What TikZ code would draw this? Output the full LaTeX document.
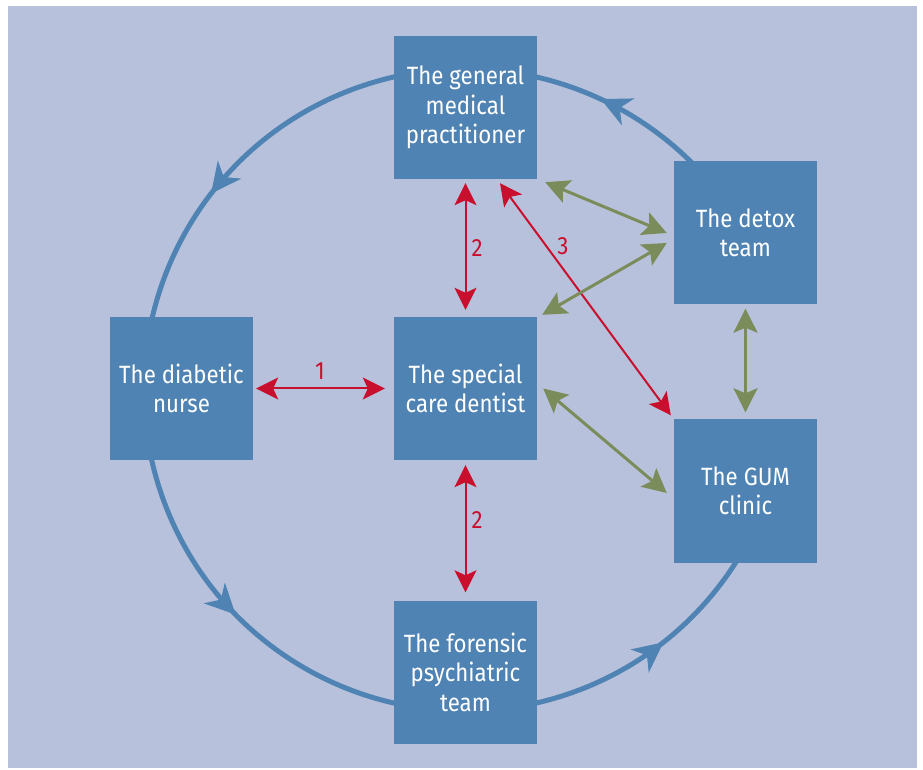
\documentclass[tikz,border=0pt]{standalone}
\usepackage{fontspec}
\setmainfont{Fira Sans}[FakeStretch=0.89]
\usetikzlibrary{arrows.meta,decorations.markings,calc}
\definecolor{bgc}{HTML}{B8C1DB}
\definecolor{boxc}{HTML}{4F83B3}
\definecolor{redc}{HTML}{C8102E}
\definecolor{greenc}{HTML}{7A8C5A}
\tikzset{
  circtip/.tip={Stealth[length=30pt,width=29pt,inset=9pt]},
  redtip/.tip={Stealth[length=22pt,width=22pt,inset=5pt]},
  grntip/.tip={Stealth[length=24pt,width=24pt,inset=5pt]}
}
\begin{document}
\begin{tikzpicture}[x=1pt,y=1pt,
  box/.style={fill=boxc, minimum width=143pt, minimum height=143pt, inner sep=0pt,
    text=white, align=center, font=\fontsize{25}{29.5}\selectfont},
  redarr/.style={draw=redc, line width=2pt, redtip-redtip},
  grnarr/.style={draw=greenc, line width=3pt, grntip-grntip},
  numlab/.style={text=redc, font=\fontsize{25}{25}\selectfont, inner sep=0pt}
]
\useasboundingbox (0,0) rectangle (923,769);
\fill[white] (0,0) rectangle (923,769);
\fill[bgc] (8,1) rectangle (917,763);

% ring (open between the detox team and the GUM clinic)
\draw[boxc, line width=5pt, postaction={decorate},
  decoration={markings,
    mark=at position 0.1364 with {\arrow[boxc]{circtip}},
    mark=at position 0.3706 with {\arrow[boxc]{circtip}},
    mark=at position 0.6194 with {\arrow[boxc]{circtip}},
    mark=at position 0.8733 with {\arrow[boxc]{circtip}}}]
  (465,379) ++(20:321) arc[start angle=20, end angle=350, radius=321];

% boxes
\node[box] (gp)  at (465.5,661.5) {The general\\medical\\practitioner};
\node[box] (dtx) at (745.5,536) {The detox\\team};
\node[box] (dia) at (181.5,380.5) {The diabetic\\nurse};
\node[box] (den) at (465.5,380.5) {The special\\care dentist};
\node[box] (gum) at (745.5,278) {The GUM\\clinic};
\node[box] (for) at (465.5,97) {The forensic\\psychiatric\\team};

% red connectors
\draw[redarr, shorten <=3pt, shorten >=9pt] (dia.east) -- (den.west);
\draw[redarr, shorten <=4pt, shorten >=7pt] (gp.south) -- (den.north);
\draw[redarr, shorten <=5pt, shorten >=8pt] (den.south) -- (for.north);
\draw[redarr] ([xshift=34.5pt,yshift=-4pt]gp.south) -- ([xshift=-3pt,yshift=4pt]gum.north west);

\node[numlab] (l1) at (320,398) {1};
\node[numlab] (l2a) at (477,521) {2};
\node[numlab] (l2b) at (477,249) {2};
\node[numlab] (l3) at (563,523) {3};

% green connectors
\draw[grnarr] ([xshift=8pt,yshift=-3pt]gp.south east) -- ([xshift=-7pt]dtx.west);
\draw[grnarr] ([xshift=5pt,yshift=2pt]den.north east) -- ([xshift=-7pt,yshift=-10pt]dtx.west);
\draw[grnarr] ([xshift=6pt,yshift=0pt]den.east) -- ([xshift=-7pt,yshift=-2pt]gum.west);
\draw[grnarr, shorten <=4pt, shorten >=7pt] (dtx.south) -- (gum.north);
\end{tikzpicture}
\end{document}
